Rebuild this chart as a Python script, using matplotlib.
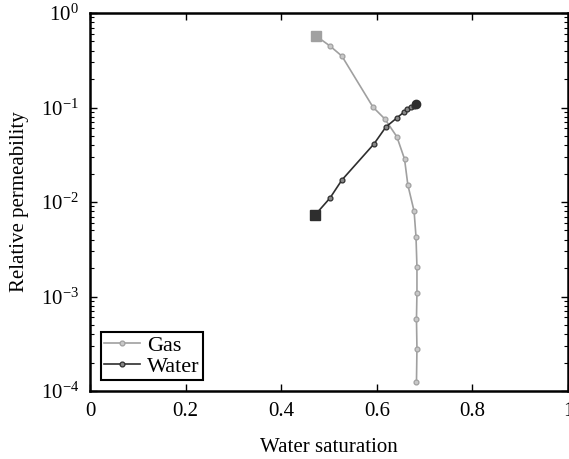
import numpy as np
import matplotlib
matplotlib.use("Agg")
import matplotlib.pyplot as plt
from matplotlib.ticker import LogLocator, FixedLocator

plt.rcParams['font.family'] = ['Liberation Serif', 'DejaVu Serif']
plt.rcParams['mathtext.fontset'] = 'custom'
plt.rcParams['mathtext.rm'] = 'Liberation Serif'
plt.rcParams['mathtext.it'] = 'Liberation Serif:italic'

# Gas relative permeability
sw_gas = [0.473, 0.502, 0.527, 0.592, 0.617, 0.642, 0.658, 0.665, 0.678, 0.682,
          0.684, 0.684, 0.683, 0.684, 0.683]
kr_gas = [0.571, 0.448, 0.350, 0.101, 0.0755, 0.049, 0.0285, 0.0151, 0.0080, 0.0043,
          0.00205, 0.0011, 0.00058, 0.00028, 0.000125]

# Water relative permeability
sw_water = [0.471, 0.502, 0.527, 0.594, 0.619, 0.642, 0.657, 0.664, 0.672, 0.678, 0.682]
kr_water = [0.0073, 0.011, 0.0171, 0.0411, 0.0622, 0.0776, 0.0896, 0.097, 0.101, 0.104, 0.108]

fig = plt.figure(figsize=(5.69, 4.59), dpi=100)
ax = fig.add_axes([90/569, 1 - 391/459, 478/569, 378/459])

gas_c = '#a0a0a0'
water_c = '#2e2e2e'

ax.plot(sw_gas, kr_gas, '-o', color=gas_c, lw=1.2, ms=3.5, mfc='#c8c8c8', mec=gas_c, mew=0.9,
        label='Gas')
ax.plot(sw_gas[0], kr_gas[0], 's', color=gas_c, ms=7)
ax.plot(sw_water, kr_water, '-o', color=water_c, lw=1.2, ms=3.5, mfc='#888888', mec=water_c,
        mew=0.9, label='Water')
ax.plot(sw_water[0], kr_water[0], 's', color=water_c, ms=7)
ax.plot(sw_water[-1], kr_water[-1], 'o', color=water_c, ms=6)

ax.set_yscale('log')
ax.set_xlim(0, 1)
ax.set_ylim(1e-4, 1)
ax.xaxis.set_major_locator(FixedLocator([0, 0.2, 0.4, 0.6, 0.8, 1]))
ax.set_xticklabels(['0', '0.2', '0.4', '0.6', '0.8', '1'])
ax.yaxis.set_major_locator(LogLocator(base=10, numticks=10))
ax.yaxis.set_minor_locator(LogLocator(base=10, subs=np.arange(2, 10), numticks=10))

ax.tick_params(which='both', direction='in', top=True, right=True, labelsize=15, pad=8)
ax.tick_params(which='major', length=5, width=1)
ax.tick_params(which='minor', length=3, width=0.8)
for s in ax.spines.values():
    s.set_linewidth(1.8)

ax.set_xlabel('Water saturation', fontsize=15, labelpad=12)
ax.set_ylabel('Relative permeability', fontsize=15, labelpad=8)

leg = ax.legend(loc='lower left', fontsize=16, fancybox=False, edgecolor='black',
                framealpha=1, borderpad=0.15, handlelength=1.6, handletextpad=0.3,
                labelspacing=0.0, borderaxespad=0.5)
leg.get_frame().set_linewidth(1.5)

fig.savefig('out.png', dpi=100)
